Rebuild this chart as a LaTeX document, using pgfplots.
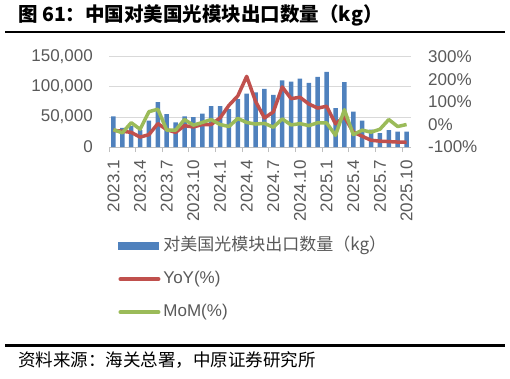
\documentclass[border=0pt]{standalone}
\usepackage{fontspec}
\setmainfont{Liberation Sans}
\newfontfamily\cjk{Noto Sans CJK SC}
\usepackage{pgfplots}
\pgfplotsset{compat=1.18}
\usepackage{pgfplotstable}
\definecolor{barblue}{HTML}{4F81BD}
\definecolor{linered}{HTML}{C0504D}
\definecolor{linegreen}{HTML}{9BBB59}
\definecolor{txtgray}{HTML}{595959}
\definecolor{gridgray}{HTML}{D9D9D9}
\definecolor{tickgray}{HTML}{BFBFBF}

\pgfplotstableread{
x kg yoy mom
0 51000 -26 -23
1 32000 -30 -37
2 35000 -35 8
3 28000 -56 -21
4 44000 -45 57
5 75000 4 68
6 55000 -23 -25
7 41000 -35 -25
8 51000 -5 22
9 50000 -11 -3
10 55500 0 9
11 68000 0 22
12 68000 29 0
13 63000 85 -9
14 80000 127 27
15 89000 214 9
16 91000 103 2
17 97000 29 5
18 87000 56 -12
19 111000 167 25
20 109000 115 -2
21 114000 121 4
22 107000 91 -5
23 117000 73 8
24 125000 81 7
25 65000 3 -48
26 108000 35 66
27 59000 -34 -45
28 44000 -52 -25
29 29000 -70 -34
30 23000 -74 -21
31 28000 -76 22
32 25500 -78 -9
33 25500 -79 0
}\data

\pgfplotsset{
  base/.style={
    at={(109pt,231pt)}, anchor=south west,
    scale only axis, width=302pt, height=90pt,
    xmin=-0.5, xmax=33.5,
    scaled y ticks=false,
    /pgf/number format/assume math mode=true,
    tick label style={font=\fontsize{17}{20}\selectfont, text=txtgray},
  }
}

\begin{document}
\begin{tikzpicture}[x=1pt,y=1pt]
\path (0,0) rectangle (510,378);
\node[anchor=base west, inner sep=0] at (18,356) {\cjk\bfseries\fontsize{19.5}{22}\selectfont 图 61：中国对美国光模块出口数量（kg）};
\draw[line width=2.5pt] (5,346) -- (505,346);
\draw[line width=2.5pt] (5,32.5) -- (505,32.5);
\node[anchor=base west, inner sep=0] at (18,12) {\cjk\fontsize{17.5}{20}\selectfont 资料来源：海关总署，中原证券研究所};

\begin{axis}[base,
  ymin=0, ymax=150000,
  axis x line*=bottom, axis y line*=left,
  y axis line style={draw=none},
  x axis line style={draw=tickgray, line width=1pt},
  ytick={0,50000,100000,150000},
  yticklabels={0,{50,000},{100,000},{150,000}},
  ymajorgrids, grid style={draw=gridgray, line width=1pt},
  major tick length=0pt,
  yticklabel style={inner sep=0pt},
  yticklabel shift=16pt,
  xtick={0,3,...,33},
  xticklabels={2023.1,2023.4,2023.7,2023.10,2024.1,2024.4,2024.7,2024.10,2025.1,2025.4,2025.7,2025.10},
  xticklabel style={rotate=90, anchor=east, inner sep=0pt},
  xticklabel shift=13pt,
  extra x ticks={-0.5,2.5,...,32.5},
  extra x tick labels={},
  extra x tick style={major tick length=5pt, tick align=outside, tick style={draw=tickgray, line width=1pt}, grid=none},
]
\addplot[ybar, bar width=4.5pt, fill=barblue, draw=none] table[x=x,y=kg]{\data};
\end{axis}

\begin{axis}[base,
  ymin=-100, ymax=300,
  axis y line*=right, hide x axis,
  y axis line style={draw=none},
  ytick={-100,0,100,200,300},
  yticklabels={-100\%,0\%,100\%,200\%,300\%},
  major tick length=0pt,
  yticklabel style={inner sep=0pt},
  yticklabel shift=17pt,
  legend style={at={(0.03,-1.01)}, anchor=north west, draw=none, fill=none,
    inner sep=0pt, row sep=17pt, column sep=3pt,
    nodes={inner sep=0pt, text height=12pt, text depth=4pt},
    font=\fontsize{17}{20}\selectfont, text=txtgray},
  legend cell align=left,
]
\addlegendimage{legend image code/.code={\fill[barblue] (0pt,-3.5pt) rectangle (40pt,3.5pt);}}
\addlegendentry{\cjk 对美国光模块出口数量（kg）}
\addplot[linered, line width=3.5pt, line join=round,
  legend image code/.code={\draw[linered, line width=4pt, line cap=round] (2pt,0pt) -- (40pt,0pt);}]
  table[x=x,y=yoy]{\data};
\addlegendentry{YoY(\%)}
\addplot[linegreen, line width=3.5pt, line join=round,
  legend image code/.code={\draw[linegreen, line width=4pt, line cap=round] (2pt,0pt) -- (40pt,0pt);}]
  table[x=x,y=mom]{\data};
\addlegendentry{MoM(\%)}
\end{axis}
\end{tikzpicture}
\end{document}
